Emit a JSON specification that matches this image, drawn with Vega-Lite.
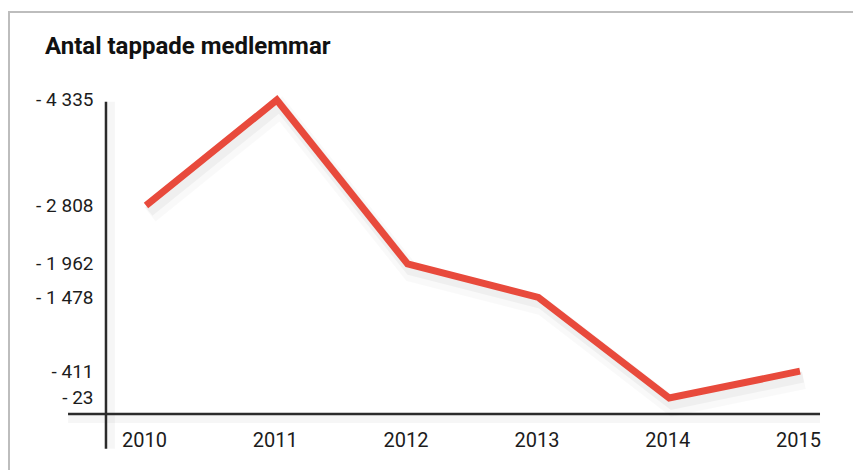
{
  "$schema": "https://vega.github.io/schema/vega-lite/v6.json",
  "autosize": "none",
  "padding": {"left": 9, "top": 12, "right": 0, "bottom": 0},
  "width": 850,
  "height": 470,
  "background": "white",
  "config": {
    "view": {"stroke": "#bdbdbd", "strokeWidth": 2},
    "font": "Roboto"
  },
  "title": {
    "text": "Antal tappade medlemmar",
    "anchor": "start",
    "frame": "group",
    "baseline": "alphabetic",
    "offset": -66,
    "dx": 36,
    "font": "Roboto",
    "fontSize": 24,
    "fontWeight": "bold",
    "color": "#111111"
  },
  "datasets": {
    "series": [
      {"year": 2010, "value": 2808},
      {"year": 2011, "value": 4335},
      {"year": 2012, "value": 1962},
      {"year": 2013, "value": 1478},
      {"year": 2014, "value": 23},
      {"year": 2015, "value": 411}
    ],
    "xaxis": [{"x1": 2009.404, "x2": 2015.153, "y": -210}],
    "yaxis": [{"x": 2009.694, "y1": -712, "y2": 4310}]
  },
  "layer": [
    {
      "data": {"name": "yaxis"},
      "mark": {"type": "rule", "stroke": "#000000", "strokeWidth": 8, "opacity": 0.035, "xOffset": 5},
      "encoding": {
        "x": {"field": "x", "type": "quantitative", "scale": {"domain": [2008.9526, 2015.4511], "nice": false, "zero": false}},
        "y": {"field": "y1", "type": "quantitative", "scale": {"domain": [-1192.5, 5608.3], "nice": false, "zero": false}},
        "y2": {"field": "y2"}
      }
    },
    {
      "data": {"name": "xaxis"},
      "mark": {"type": "rule", "stroke": "#000000", "strokeWidth": 8, "opacity": 0.035, "yOffset": 5},
      "encoding": {
        "x": {"field": "x1", "type": "quantitative"},
        "x2": {"field": "x2"},
        "y": {"field": "y", "type": "quantitative"}
      }
    },
    {
      "data": {"name": "yaxis"},
      "mark": {"type": "rule", "stroke": "#2b2b2b", "strokeWidth": 2.5},
      "encoding": {
        "x": {"field": "x", "type": "quantitative"},
        "y": {"field": "y1", "type": "quantitative"},
        "y2": {"field": "y2"}
      }
    },
    {
      "data": {"name": "xaxis"},
      "mark": {"type": "rule", "stroke": "#2b2b2b", "strokeWidth": 2.5},
      "encoding": {
        "x": {"field": "x1", "type": "quantitative"},
        "x2": {"field": "x2"},
        "y": {"field": "y", "type": "quantitative"}
      }
    },
    {
      "data": {"name": "series"},
      "mark": {"type": "line", "stroke": "#000000", "strokeWidth": 18, "opacity": 0.025, "xOffset": 4, "yOffset": 9, "strokeJoin": "miter", "strokeCap": "butt"},
      "encoding": {
        "x": {"field": "year", "type": "quantitative"},
        "y": {"field": "value", "type": "quantitative"}
      }
    },
    {
      "data": {"name": "series"},
      "mark": {"type": "line", "stroke": "#000000", "strokeWidth": 11, "opacity": 0.04, "xOffset": 3, "yOffset": 6, "strokeJoin": "miter", "strokeCap": "butt"},
      "encoding": {
        "x": {"field": "year", "type": "quantitative"},
        "y": {"field": "value", "type": "quantitative"}
      }
    },
    {
      "data": {"name": "series"},
      "mark": {"type": "line", "stroke": "#e84a3c", "strokeWidth": 7, "strokeJoin": "miter", "strokeCap": "butt"},
      "encoding": {
        "x": {
          "field": "year",
          "type": "quantitative",
          "axis": {
            "orient": "bottom",
            "values": [2010, 2011, 2012, 2013, 2014, 2015],
            "format": "d",
            "domain": false,
            "ticks": false,
            "tickSize": 0,
            "grid": false,
            "title": null,
            "offset": -36,
            "labelPadding": 0,
            "labelOffset": -2,
            "labelBaseline": "alphabetic",
            "labelFont": "Roboto",
            "labelFontSize": 20,
            "labelColor": "#1c1c1c",
            "labelFlush": false,
            "labelOverlap": false
          }
        },
        "y": {
          "field": "value",
          "type": "quantitative",
          "axis": {
            "orient": "left",
            "values": [4335, 2808, 1962, 1478, 411, 23],
            "labelExpr": "'- ' + replace(format(datum.value, ','), ',', ' ')",
            "domain": false,
            "ticks": false,
            "tickSize": 0,
            "grid": false,
            "title": null,
            "offset": -84,
            "labelPadding": 0,
            "labelFont": "Roboto",
            "labelFontSize": 19,
            "labelColor": "#1c1c1c",
            "labelOverlap": false,
            "labelFlush": false
          }
        }
      }
    }
  ]
}
